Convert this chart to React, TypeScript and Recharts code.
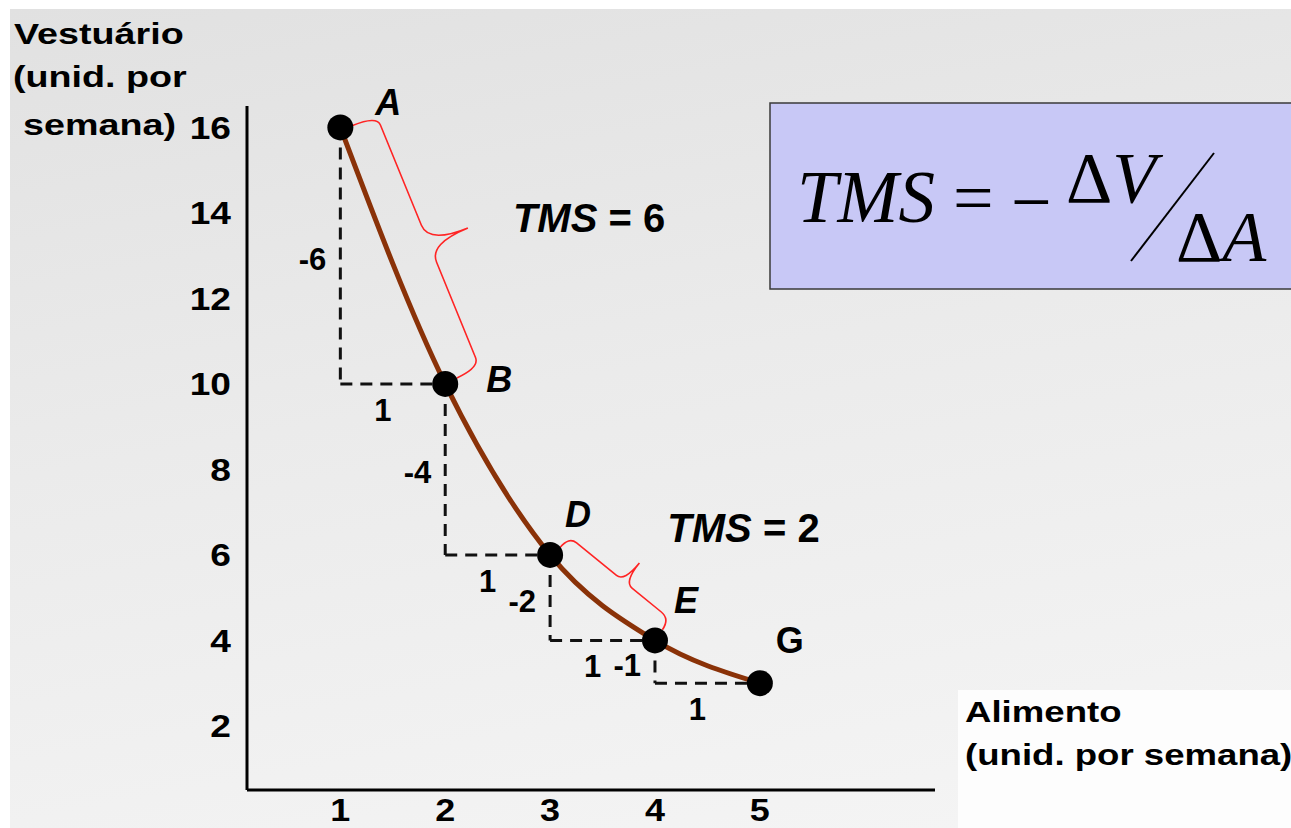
import React from 'react'
import { LineChart, Line, XAxis, YAxis, ReferenceLine, LabelList } from 'recharts'

// ─── Data ─────────────────────────────────────────────────────────────────────

const PONTOS = ['A', 'B', 'D', 'E', 'G']
const ALIMENTO = [1, 2, 3, 4, 5]
const VESTUARIO = [16, 10, 6, 4, 3]
const X_TICKS = [1, 2, 3, 4, 5]
const Y_TICKS = [2, 4, 6, 8, 10, 12, 14, 16]
const TMS_PARES = [[0, 1], [2, 3]] // A→B e D→E

const data = ALIMENTO.map((a, i) => ({ nome: PONTOS[i], a, v: VESTUARIO[i] }))

// ─── Style ────────────────────────────────────────────────────────────────────

const W = 1291
const H = 828
const SANS = '"Liberation Sans", Arial, sans-serif'
const SERIF = '"Liberation Serif", "Times New Roman", serif'
const CURVE = '#8A3208'
const RED = '#FF2424'

// point-name offsets from the dot centre (px), upright for G
const NAME_OFFSET = [[48, -12], [54, 8], [28, -28], [31, -27], [30, -30]]
const BRACE_STYLE = [
  { d: 38, tip: 80, r: 20, frac: 0.51, label: [45, 4] },
  { d: 26, tip: 50, r: 10, frac: 0.55, label: [28, -21] },
]

// ─── Helpers ──────────────────────────────────────────────────────────────────

function SText({ x, y, sx = 1, size, anchor = 'start', italic = false, family = SANS, children }: any) {
  return (
    <text
      transform={`translate(${x} ${y}) scale(${sx} 1)`}
      fontSize={size}
      fontFamily={family}
      fontWeight={700}
      fontStyle={italic ? 'italic' : 'normal'}
      textAnchor={anchor}
      fill="#000"
    >
      {children}
    </text>
  )
}

function YTick({ x, y, payload }: any) {
  return (
    <text transform={`translate(${x} ${y}) scale(1.16 1)`} dy="0.355em" textAnchor="end"
      fontSize={32} fontFamily={SANS} fontWeight={700} fill="#000">
      {payload.value}
    </text>
  )
}

function XTick({ x, y, payload }: any) {
  return (
    <text transform={`translate(${x} ${y}) scale(1.16 1)`} dy="0.71em" textAnchor="middle"
      fontSize={31} fontFamily={SANS} fontWeight={700} fill="#000">
      {payload.value}
    </text>
  )
}

function PointName({ x, y, index, value }: any) {
  const [dx, dy] = NAME_OFFSET[index]
  return (
    <text x={x + dx} y={y + dy} textAnchor="middle" fontSize={36} fontFamily={SANS}
      fontWeight={700} fontStyle={value === 'G' ? 'normal' : 'italic'} fill="#000">
      {value}
    </text>
  )
}

function dashShape(text: string, side: 'left' | 'below') {
  return (p: any) => {
    const { x1, y1, x2, y2 } = p
    const mx = (x1 + x2) / 2
    const my = (y1 + y2) / 2
    return (
      <g>
        <line x1={x1} y1={y1} x2={x2} y2={y2} stroke="#111" strokeWidth={3} strokeDasharray="12 8" />
        {side === 'left' ? (
          <text x={x1 - 14} y={my + 14} textAnchor="end" fontSize={31} fontFamily={SANS} fontWeight={700}>{text}</text>
        ) : (
          <text x={mx - 10} y={y1 + 37} textAnchor="middle" fontSize={31} fontFamily={SANS} fontWeight={700}>{text}</text>
        )}
      </g>
    )
  }
}

function braceShape(k: number, tms: number) {
  const st = BRACE_STYLE[k]
  return (p: any) => {
    const { x1, y1, x2, y2 } = p
    const L = Math.hypot(x2 - x1, y2 - y1)
    const ux = (x2 - x1) / L
    const uy = (y2 - y1) / L
    const nx = uy
    const ny = -ux
    const P = (s: number, t: number) =>
      `${(x1 + ux * s + nx * t).toFixed(1)},${(y1 + uy * s + ny * t).toFixed(1)}`
    const m = L * st.frac
    const { d, tip, r } = st
    const path = [
      `M${P(3, 12)}`,
      `Q${P(3, d)} ${P(13, d)}`,
      `L${P(m - r, d)}`,
      `Q${P(m, d)} ${P(m, tip)}`,
      `Q${P(m, d)} ${P(m + r, d)}`,
      `L${P(L - 13, d)}`,
      `Q${P(L - 2, d)} ${P(L - 1, 13)}`,
    ].join(' ')
    const tx = x1 + ux * m + nx * tip
    const ty = y1 + uy * m + ny * tip
    return (
      <g>
        <path d={path} fill="none" stroke={RED} strokeWidth={1.6} />
        <text x={tx + st.label[0]} y={ty + st.label[1]} fontSize={40} fontFamily={SANS} fontWeight={700} fill="#000">
          <tspan fontStyle="italic">TMS</tspan>
          <tspan> = {tms}</tspan>
        </text>
      </g>
    )
  }
}

// ─── Component ────────────────────────────────────────────────────────────────

export default function App() {
  const steps = data.slice(0, -1).map((p, i) => ({ p, q: data[i + 1] }))

  return (
    <div style={{ position: 'fixed', left: 0, top: 0, width: W, height: H, overflow: 'hidden', background: '#fff' }}>
      <div style={{ position: 'absolute', left: 10, top: 9, right: 0, bottom: 0,
        background: 'linear-gradient(170deg, #e1e1e1 0%, #ebebeb 45%, #f5f5f5 100%)' }} />
      <div style={{ position: 'absolute', left: 958, top: 690, right: 0, bottom: 0, background: '#fdfdfd' }} />

      <div style={{ position: 'absolute', left: 0, top: 0 }}>
        <LineChart width={W} height={H} data={data} margin={{ top: 106, right: 356, bottom: 0, left: 187 }}>
          <XAxis
            type="number"
            dataKey="a"
            domain={[0.11, 6.67]}
            ticks={X_TICKS}
            tickLine={false}
            tickSize={0}
            tickMargin={9}
            height={38}
            axisLine={{ stroke: '#000', strokeWidth: 3 }}
            tick={<XTick />}
          />
          <YAxis
            type="number"
            domain={[0.5, 16.5]}
            ticks={Y_TICKS}
            tickLine={false}
            tickSize={0}
            tickMargin={16}
            width={60}
            axisLine={{ stroke: '#000', strokeWidth: 3 }}
            tick={<YTick />}
          />

          {steps.map(({ p, q }, i) => (
            <ReferenceLine
              key={`v${i}`}
              segment={[{ x: p.a, y: p.v }, { x: p.a, y: q.v }]}
              shape={dashShape(`${q.v - p.v}`, 'left')}
            />
          ))}
          {steps.map(({ p, q }, i) => (
            <ReferenceLine
              key={`h${i}`}
              segment={[{ x: p.a, y: q.v }, { x: q.a, y: q.v }]}
              shape={dashShape(`${q.a - p.a}`, 'below')}
            />
          ))}
          {TMS_PARES.map(([i, j], k) => (
            <ReferenceLine
              key={`b${k}`}
              segment={[{ x: data[i].a, y: data[i].v }, { x: data[j].a, y: data[j].v }]}
              shape={braceShape(k, -(data[j].v - data[i].v) / (data[j].a - data[i].a))}
            />
          ))}

          <Line
            type="monotone"
            dataKey="v"
            stroke={CURVE}
            strokeWidth={5}
            dot={{ r: 13, fill: '#000', stroke: '#000', strokeWidth: 0 }}
            activeDot={false}
            isAnimationActive={false}
          >
            <LabelList dataKey="nome" content={<PointName />} />
          </Line>
        </LineChart>
      </div>

      <svg width={W} height={H} style={{ position: 'absolute', left: 0, top: 0, pointerEvents: 'none' }}>
        {/* axis titles */}
        <SText x={14} y={44} size={29} sx={1.3}>Vestuário</SText>
        <SText x={13} y={87} size={29} sx={1.3}>(unid. por</SText>
        <SText x={176} y={135} size={29} sx={1.3} anchor="end">semana)</SText>
        <SText x={965} y={722} size={30} sx={1.22}>Alimento</SText>
        <SText x={965} y={765} size={30} sx={1.22}>(unid. por semana)</SText>

        {/* formula box */}
        <rect x={770} y={103} width={540} height={186} fill="#C8C8F6" stroke="#3a3a3a" strokeWidth={1.5} />
        <text x={797} y={222} fontSize={73} fontFamily={SERIF} fontStyle="italic" fill="#000">TMS</text>
        <text x={953} y={222} fontSize={72} fontFamily={SERIF} fill="#000">=</text>
        <text x={1011} y={226} fontSize={72} fontFamily={SERIF} fill="#000">−</text>
        <text x={1066} y={202} fontSize={72} fontFamily={SERIF} fill="#000">
          Δ<tspan fontStyle="italic">V</tspan>
        </text>
        <line x1={1131} y1={261} x2={1214} y2={153} stroke="#000" strokeWidth={2} />
        <text x={1176} y={261} fontSize={72} fontFamily={SERIF} fill="#000">
          Δ<tspan fontStyle="italic">A</tspan>
        </text>
      </svg>
    </div>
  )
}
